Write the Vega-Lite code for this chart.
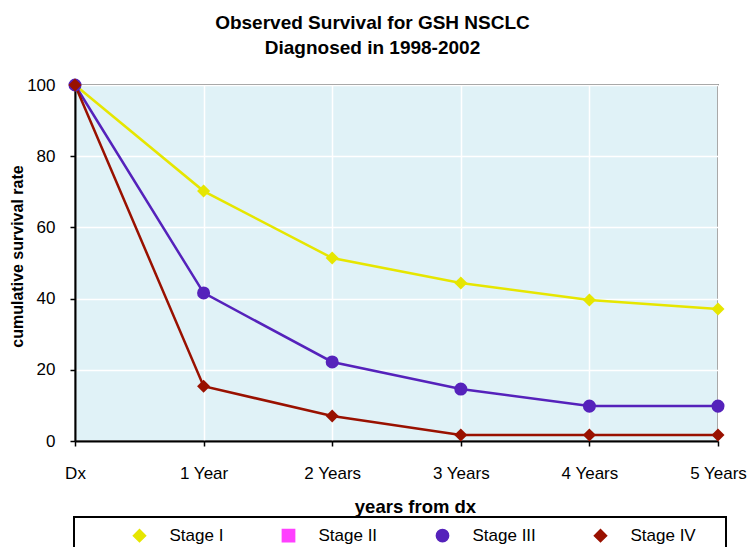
{
  "$schema": "https://vega.github.io/schema/vega-lite/v6.json",
  "width": 643,
  "height": 356,
  "autosize": {"type": "none"},
  "padding": {"left": 75, "top": 85, "right": 29, "bottom": 106},
  "background": "white",
  "title": {
    "text": ["Observed Survival for GSH NSCLC", "Diagnosed in 1998-2002"],
    "font": "Liberation Sans",
    "fontSize": 19,
    "fontWeight": "bold",
    "color": "black",
    "anchor": "middle",
    "lineHeight": 25,
    "offset": 18,
    "dx": -24
  },
  "data": {
    "values": [
      {"year": "Dx", "stage": "Stage I", "rate": 100},
      {"year": "1 Year", "stage": "Stage I", "rate": 70.2},
      {"year": "2 Years", "stage": "Stage I", "rate": 51.4},
      {"year": "3 Years", "stage": "Stage I", "rate": 44.4},
      {"year": "4 Years", "stage": "Stage I", "rate": 39.6},
      {"year": "5 Years", "stage": "Stage I", "rate": 37.1},
      {"year": "Dx", "stage": "Stage III", "rate": 100},
      {"year": "1 Year", "stage": "Stage III", "rate": 41.6},
      {"year": "2 Years", "stage": "Stage III", "rate": 22.2},
      {"year": "3 Years", "stage": "Stage III", "rate": 14.6},
      {"year": "4 Years", "stage": "Stage III", "rate": 9.8},
      {"year": "5 Years", "stage": "Stage III", "rate": 9.8},
      {"year": "Dx", "stage": "Stage IV", "rate": 100},
      {"year": "1 Year", "stage": "Stage IV", "rate": 15.4},
      {"year": "2 Years", "stage": "Stage IV", "rate": 7.0},
      {"year": "3 Years", "stage": "Stage IV", "rate": 1.7},
      {"year": "4 Years", "stage": "Stage IV", "rate": 1.7},
      {"year": "5 Years", "stage": "Stage IV", "rate": 1.7}
    ]
  },
  "encoding": {
    "x": {
      "field": "year",
      "type": "nominal",
      "sort": null,
      "scale": {"type": "point", "padding": 0},
      "axis": {
        "title": "years from dx",
        "titleFont": "Liberation Sans",
        "titleFontSize": 18.5,
        "titleFontWeight": "bold",
        "titleColor": "black",
        "titlePadding": 16,
        "titleX": 340,
        "labelAngle": 0,
        "labelFont": "Liberation Sans",
        "labelFontSize": 17,
        "labelColor": "black",
        "labelPadding": 19,
        "domainColor": "black",
        "domainWidth": 2,
        "tickColor": "black",
        "tickWidth": 1.5,
        "tickSize": 5,
        "grid": true,
        "gridColor": "white",
        "gridWidth": 1.5
      }
    },
    "y": {
      "field": "rate",
      "type": "quantitative",
      "scale": {"domain": [0, 100], "nice": false},
      "axis": {
        "title": "cumulative survival rate",
        "titleFont": "Liberation Sans",
        "titleFontSize": 16,
        "titleFontWeight": "bold",
        "titleColor": "black",
        "titlePadding": 1,
        "titleY": 171,
        "values": [0, 20, 40, 60, 80, 100],
        "labelFont": "Liberation Sans",
        "labelFontSize": 17,
        "labelColor": "black",
        "labelPadding": 15,
        "domainColor": "black",
        "domainWidth": 2,
        "tickColor": "black",
        "tickWidth": 1.5,
        "tickSize": 5,
        "grid": true,
        "gridColor": "white",
        "gridWidth": 1.5
      }
    },
    "color": {
      "field": "stage",
      "type": "nominal",
      "scale": {
        "domain": ["Stage I", "Stage II", "Stage III", "Stage IV"],
        "range": ["#E6E600", "#FF40FF", "#5522BB", "#991100"]
      },
      "legend": {
        "title": " ",
        "titleOrient": "right",
        "titlePadding": 20,
        "orient": "none",
        "legendX": -1,
        "legendY": 432,
        "direction": "horizontal",
        "columns": 4,
        "padding": 10,
        "columnPadding": 9,
        "strokeColor": "black",
        "fillColor": "white",
        "symbolSize": 150,
        "symbolOffset": 47,
        "symbolOpacity": 1,
        "labelOffset": 21.5,
        "labelFont": "Liberation Sans",
        "labelFontSize": 17,
        "labelColor": "black"
      }
    }
  },
  "layer": [
    {
      "mark": {"type": "line", "strokeWidth": 2.5},
      "encoding": {"detail": {"field": "stage"}}
    },
    {
      "mark": {"type": "point", "filled": true, "size": 170, "opacity": 1},
      "encoding": {
        "shape": {
          "field": "stage",
          "type": "nominal",
          "scale": {
            "domain": ["Stage I", "Stage II", "Stage III", "Stage IV"],
            "range": ["diamond", "square", "circle", "diamond"]
          },
          "legend": null
        }
      }
    }
  ],
  "config": {
    "view": {"fill": "#E0F2F7", "stroke": "#8C8C8C", "strokeWidth": 2},
    "legend": {"strokeWidth": 2}
  }
}
